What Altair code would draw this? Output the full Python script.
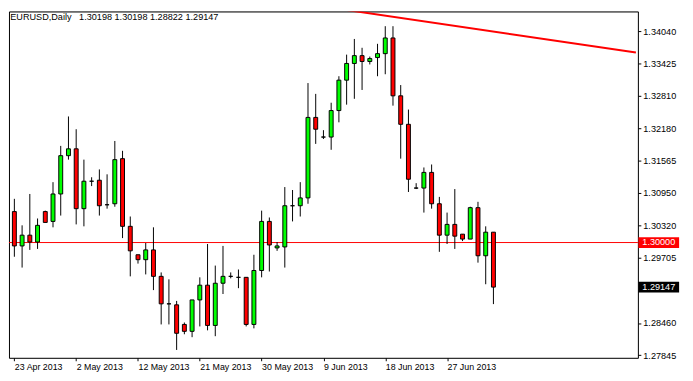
import json
import altair as alt
import pandas as pd

# ---- data (EURUSD daily candles) ----
opens = [1.30592, 1.29935, 1.30141, 1.30010, 1.30592, 1.30404, 1.30929, 1.31662, 1.31793, 1.30648,
         1.31173, 1.31192, 1.30723, 1.30742, 1.31605, 1.30310, 1.29766, 1.29672, 1.29859, 1.29353,
         1.28827, 1.28808, 1.28433, 1.28301, 1.28902, 1.29184, 1.28414, 1.29221, 1.29353, 1.29334,
         1.29334, 1.28433, 1.29465, 1.30404, 1.29897, 1.29916, 1.30704, 1.30704, 1.30854, 1.32394,
         1.32018, 1.32018, 1.32525, 1.33107, 1.33426, 1.33576, 1.33464, 1.33539, 1.33614, 1.33914,
         1.32807, 1.32262, 1.31042, 1.31042, 1.31342, 1.30742, 1.30141, 1.30347, 1.30160, 1.30066,
         1.30667, 1.29747, 1.30198]
highs = [1.30836, 1.30329, 1.30929, 1.30460, 1.30610, 1.31155, 1.31849, 1.32412, 1.32168, 1.31586,
         1.31249, 1.31399, 1.31305, 1.31943, 1.31755, 1.30498, 1.29766, 1.29991, 1.30291, 1.29428,
         1.29296, 1.28883, 1.28470, 1.28902, 1.29334, 1.29972, 1.29559, 1.29935, 1.29428, 1.29484,
         1.29334, 1.29766, 1.30610, 1.30479, 1.30010, 1.31061, 1.31005, 1.31155, 1.33051, 1.32844,
         1.32150, 1.32675, 1.33182, 1.33595, 1.33895, 1.33726, 1.33558, 1.33802, 1.34139, 1.34139,
         1.33013, 1.32544, 1.31136, 1.31436, 1.31493, 1.30873, 1.30573, 1.31023, 1.30160, 1.30685,
         1.30779, 1.30310, 1.30198]
lows = [1.29728, 1.29521, 1.29859, 1.29878, 1.30385, 1.30291, 1.30516, 1.31586, 1.30347, 1.30310,
        1.31080, 1.30516, 1.30648, 1.30685, 1.30085, 1.29353, 1.29597, 1.29390, 1.29090, 1.28433,
        1.28433, 1.27945, 1.28245, 1.28189, 1.28395, 1.28320, 1.28208, 1.29015, 1.29315, 1.29127,
        1.28395, 1.28358, 1.29334, 1.29446, 1.29841, 1.29521, 1.30404, 1.30498, 1.30742, 1.31887,
        1.31981, 1.31774, 1.32300, 1.32638, 1.32750, 1.32919, 1.33407, 1.33182, 1.33220, 1.32619,
        1.31605, 1.30967, 1.31023, 1.30573, 1.30648, 1.29822, 1.29972, 1.29878, 1.30028, 1.30066,
        1.29615, 1.29202, 1.28822]
closes = [1.29935, 1.30141, 1.30010, 1.30329, 1.30385, 1.30929, 1.31662, 1.31793, 1.30648, 1.31173,
          1.31173, 1.30704, 1.30723, 1.31586, 1.30310, 1.29841, 1.29672, 1.29859, 1.29353, 1.28827,
          1.28827, 1.28264, 1.28301, 1.28902, 1.29184, 1.28414, 1.29221, 1.29353, 1.29353, 1.29334,
          1.28433, 1.29465, 1.30404, 1.29953, 1.29935, 1.30704, 1.30704, 1.30854, 1.32394, 1.32168,
          1.32018, 1.32525, 1.33107, 1.33426, 1.33576, 1.33464, 1.33520, 1.33614, 1.33914, 1.32807,
          1.32262, 1.31211, 1.31042, 1.31342, 1.30742, 1.30141, 1.30347, 1.30122, 1.30066, 1.30667,
          1.29747, 1.30198, 1.29147]

tick_idx = [0, 8, 16, 24, 32, 40, 48, 56]
tick_dates = ["23 Apr 2013", "2 May 2013", "12 May 2013", "21 May 2013",
              "30 May 2013", "9 Jun 2013", "18 Jun 2013", "27 Jun 2013"]
y_ticks = [1.34040, 1.33425, 1.32810, 1.32180, 1.31565, 1.30950, 1.30320,
           1.29705, 1.28460, 1.27845]

trend_i = [42.56, 80.44]
trend_p = [1.34459, 1.33636]

level_price = [1.30000]
box_prices = [1.30000, 1.29147]
box_colors = ["#ff0000", "#000000"]
box_texts = ["1.30000", "1.29147"]

title_text = "EURUSD,Daily\u00a0\u00a0 1.30198 1.30198 1.28822 1.29147"

# ---- layout ----
FONT = "Liberation Sans"
FS = 9.3
W, H = 641, 353
X_DOMAIN = [-0.0625, 80.0625]
Y_DOMAIN = [1.277945, 1.344211]

xs = alt.Scale(domain=X_DOMAIN, nice=False, zero=False)
ys = alt.Scale(domain=Y_DOMAIN, nice=False, zero=False)

df = pd.DataFrame({"i": list(range(len(opens))), "open": opens, "high": highs,
                   "low": lows, "close": closes})

base = alt.Chart(df).transform_calculate(
    dir="datum.close > datum.open ? 'up' : (datum.close < datum.open ? 'down' : 'flat')"
)

x_axis_bottom = alt.Axis(
    orient="bottom", values=tick_idx,
    labelExpr=json.dumps(tick_dates) + "[round(datum.value / 8)]",
    title=None, grid=False, domainColor="black", domainWidth=1,
    tickColor="black", tickSize=3, tickWidth=1,
    labelFont=FONT, labelFontSize=9.0, labelColor="black",
    labelAlign="left", labelBaseline="top", labelPadding=2,
    labelFlush=False, labelOverlap=False,
)
y_axis_right = alt.Axis(
    orient="right", values=y_ticks, format=".5f",
    title=None, grid=False, domainColor="black", domainWidth=1,
    tickColor="black", tickSize=3, tickWidth=1,
    labelFont=FONT, labelFontSize=FS, labelColor="black",
    labelBaseline="middle", labelPadding=2,
    labelFlush=False, labelOverlap=False,
)
x_axis_top = alt.Axis(orient="top", labels=False, ticks=False, title=None, grid=False,
                      domainColor="black", domainWidth=1)
y_axis_left = alt.Axis(orient="left", labels=False, ticks=False, title=None, grid=False,
                       domainColor="black", domainWidth=1)

wicks = base.mark_rule(color="black", strokeWidth=1, clip=True).encode(
    x=alt.X("i:Q", scale=xs, axis=x_axis_bottom),
    y=alt.Y("low:Q", scale=ys, axis=y_axis_right),
    y2="high:Q",
)

bodies = base.mark_bar(size=4, stroke="black", strokeWidth=1, clip=True).encode(
    x=alt.X("i:Q", scale=xs, axis=None),
    y=alt.Y("open:Q", scale=ys, axis=None),
    y2="close:Q",
    fill=alt.Fill("dir:N", scale=alt.Scale(domain=["up", "down", "flat"],
                                           range=["#00ff00", "#ff0000", "#000000"]),
                  legend=None),
)

hline = alt.Chart(pd.DataFrame({"p": level_price})).mark_rule(
    color="#ff0000", strokeWidth=1).encode(y=alt.Y("p:Q", scale=ys, axis=None))

trend = alt.Chart(pd.DataFrame({"i": trend_i, "p": trend_p})).mark_line(
    color="#ff0000", strokeWidth=2, clip=True).encode(
    x=alt.X("i:Q", scale=xs, axis=x_axis_top),
    y=alt.Y("p:Q", scale=ys, axis=y_axis_left),
)

boxes_df = pd.DataFrame({"p": box_prices, "c": box_colors, "t": box_texts})
boxes = alt.Chart(boxes_df).mark_rule(strokeWidth=11).encode(
    x=alt.value(W + 0.5), x2=alt.value(W + 42),
    y=alt.Y("p:Q", scale=ys, axis=None),
    color=alt.Color("c:N", scale=None),
)
box_text = alt.Chart(boxes_df).mark_text(
    align="left", baseline="middle", font=FONT, fontSize=FS, color="white").encode(
    x=alt.value(W + 4.5), y=alt.Y("p:Q", scale=ys, axis=None), text="t:N")

title = alt.Chart(pd.DataFrame({"t": [title_text]})).mark_text(
    align="left", baseline="middle", font=FONT, fontSize=FS, color="black").encode(
    x=alt.value(1.3), y=alt.value(5.5), text="t:N")

chart = alt.layer(hline, wicks, bodies, trend, boxes, box_text, title).resolve_axis(
    x="independent", y="independent"
).properties(width=W, height=H, padding=0).configure_view(stroke=None).configure(
    background="white")

chart.save("out.html", embed_options={"renderer": "svg", "actions": False})
